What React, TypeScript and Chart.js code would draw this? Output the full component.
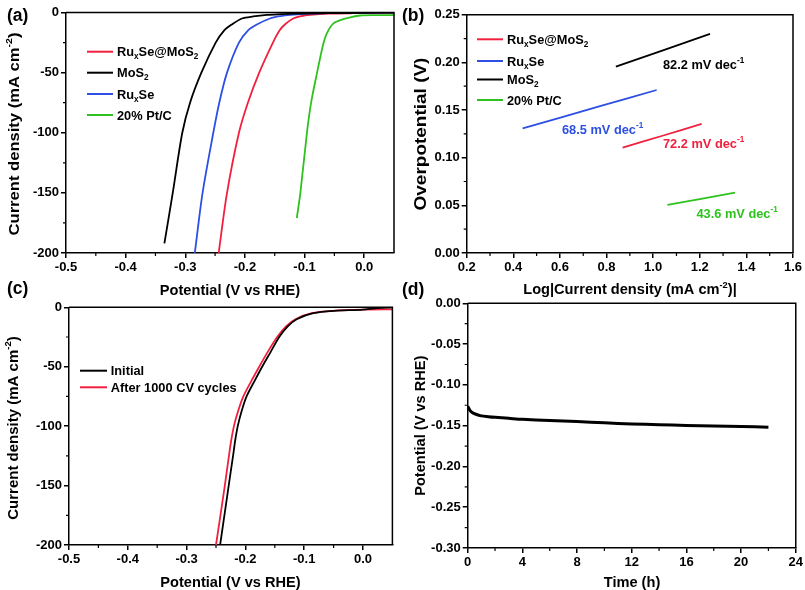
import React, { useEffect, useRef } from 'react';
import { Chart, registerables } from 'chart.js';

Chart.register(...registerables);

const FONT = '"Liberation Sans", Arial, Helvetica, sans-serif';

// ---------------- data ----------------
// (a) LSV polarization curves
const aMoS2Potential = [-0.335, -0.321, -0.305, -0.292, -0.273, -0.249, -0.235, -0.222, -0.205, -0.186, -0.163, -0.14, -0.12, -0.08, -0.04, 0.0, 0.05];
const aMoS2Current = [-192, -150, -100, -75, -50, -25, -15, -10, -5, -3.3, -2, -1.4, -1, -0.7, -0.5, -0.3, 0];
const aRuxSePotential = [-0.284, -0.271, -0.253, -0.243, -0.23, -0.21, -0.195, -0.18, -0.158, -0.14, -0.124, -0.1, -0.06, 0.0, 0.05];
const aRuxSeCurrent = [-200, -150, -100, -75, -50, -25, -15, -10, -5, -3, -2, -1.2, -0.6, -0.2, 0];
const aHybridPotential = [-0.244, -0.23, -0.21, -0.195, -0.176, -0.153, -0.142, -0.133, -0.119, -0.105, -0.091, -0.06, -0.02, 0.05];
const aHybridCurrent = [-200, -150, -100, -75, -50, -25, -15, -10, -5, -3, -2, -1, -0.6, -0.3];
const aPtCPotential = [-0.113, -0.107, -0.096, -0.089, -0.079, -0.069, -0.0626, -0.0515, -0.035, -0.0235, -0.0067, 0.02, 0.05];
const aPtCCurrent = [-171, -150, -100, -75, -50, -27, -17.3, -9, -5.5, -4, -2.5, -2.2, -2.1];

// (b) Tafel plots
const bHybridLog = [0.869, 1.04, 1.208];
const bHybridEta = [0.1105, 0.123, 0.1354];
const bRuxSeLog = [0.44, 0.772, 1.015];
const bRuxSeEta = [0.1308, 0.154, 0.171];
const bMoS2Log = [0.84, 1.244];
const bMoS2Eta = [0.1955, 0.2298];
const bPtCLog = [1.061, 1.351];
const bPtCEta = [0.0504, 0.0633];
const bSlopeLabels = ['82.2 mV dec^{-1}', '68.5 mV dec^{-1}', '72.2 mV dec^{-1}', '43.6 mV dec^{-1}'];

// (c) stability LSV
const cInitialPotential = [-0.243, -0.2284, -0.221, -0.2175, -0.213, -0.2065, -0.198, -0.185, -0.1715, -0.157, -0.1425, -0.128, -0.1128, -0.0845, -0.05, 0.0, 0.02, 0.05];
const cInitialCurrent = [-200, -150, -125, -112.5, -100, -87.5, -75, -62.5, -50, -37.5, -25, -16, -10, -5, -3, -2, -0.8, 0];
const cAfterPotential = [-0.25, -0.235, -0.228, -0.2243, -0.2195, -0.2125, -0.2035, -0.1905, -0.1765, -0.162, -0.146, -0.131, -0.115, -0.087, -0.05, 0.0, 0.05];
const cAfterCurrent = [-200, -150, -125, -112.5, -100, -87.5, -75, -62.5, -50, -37.5, -25, -16, -10, -5, -3, -2, -1.7];

// (d) chronopotentiometry
const dTime = [0, 0.15, 0.3, 0.6, 1, 1.5, 2, 3, 4, 6, 8, 10, 12, 14, 16, 18, 20, 22];
const dPotential = [-0.126, -0.131, -0.1335, -0.136, -0.138, -0.139, -0.1398, -0.141, -0.1422, -0.1438, -0.145, -0.1465, -0.148, -0.1488, -0.1497, -0.1505, -0.151, -0.152];

// tick values
const lsvTicksX = [-0.5, -0.4, -0.3, -0.2, -0.1, 0.0];
const lsvMinorX = [-0.45, -0.35, -0.25, -0.15, -0.05];
const lsvTicksY = [0, -50, -100, -150, -200];
const lsvMinorY = [-25, -75, -125, -175];
const tafelTicksX = [0.2, 0.4, 0.6, 0.8, 1.0, 1.2, 1.4, 1.6];
const tafelMinorX = [0.3, 0.5, 0.7, 0.9, 1.1, 1.3, 1.5];
const tafelTicksY = [0, 0.05, 0.1, 0.15, 0.2, 0.25];
const tafelMinorY = [0.025, 0.075, 0.125, 0.175, 0.225];
const timeTicksX = [0, 4, 8, 12, 16, 20, 24];
const timeMinorX = [2, 6, 10, 14, 18, 22];
const potTicksY = [0, -0.05, -0.1, -0.15, -0.2, -0.25, -0.3];
const potMinorY = [-0.025, -0.075, -0.125, -0.175, -0.225, -0.275];

// ---------------- styles ----------------
const RED = '#f2203f';
const BLUE = '#2d4fe3';
const GREEN = '#2fc21f';
const BLACK = '#000000';

const W = 805;
const H = 590;
const Y_AXIS_W = 60;
const X_AXIS_H = 30;

type Seg = { t: string; m: number };
function parseRich(s: string): Seg[] {
  const out: Seg[] = [];
  let i = 0;
  let buf = '';
  while (i < s.length) {
    const c = s[i];
    if ((c === '_' || c === '^') && s[i + 1] === '{') {
      if (buf) out.push({ t: buf, m: 0 });
      buf = '';
      const end = s.indexOf('}', i);
      out.push({ t: s.slice(i + 2, end), m: c === '_' ? 1 : 2 });
      i = end + 1;
    } else {
      buf += c;
      i++;
    }
  }
  if (buf) out.push({ t: buf, m: 0 });
  return out;
}

function drawRich(
  ctx: CanvasRenderingContext2D,
  s: string,
  x: number,
  y: number,
  size: number,
  color: string,
  align: 'left' | 'center',
  rotate = false,
  sx = 1
) {
  const segs = parseRich(s);
  const small = size * 0.64;
  const fontFor = (m: number) => `bold ${m === 0 ? size : small}px ${FONT}`;
  let total = 0;
  const widths = segs.map((g) => {
    ctx.font = fontFor(g.m);
    const w = ctx.measureText(g.t).width;
    total += w;
    return w;
  });
  ctx.save();
  ctx.translate(x, y);
  if (rotate) ctx.rotate(-Math.PI / 2);
  ctx.scale(sx, 1);
  ctx.fillStyle = color;
  ctx.textBaseline = 'alphabetic';
  ctx.textAlign = 'left';
  let cx = align === 'center' ? -total / 2 : 0;
  const base = size * 0.36;
  segs.forEach((g, i) => {
    ctx.font = fontFor(g.m);
    let by = base;
    if (g.m === 1) by = base + size * 0.24;
    if (g.m === 2) by = base - size * 0.45;
    ctx.fillText(g.t, cx, by);
    cx += widths[i];
  });
  ctx.restore();
}

type LegendItem = { label: string; color: string; y: number };
type TextItem = { text: string; x: number; y: number; color: string; size: number; align: 'left' | 'center'; rotate?: boolean; sx?: number };
type Extras = {
  minorX: number[];
  minorY: number[];
  legend: LegendItem[];
  legendX1: number;
  legendX2: number;
  legendTextX: number;
  texts: TextItem[];
};

function extrasPlugin(ex: Extras) {
  return {
    id: 'panelExtras',
    afterDraw(chart: any) {
      const ctx: CanvasRenderingContext2D = chart.ctx;
      const { left, top, right, bottom } = chart.chartArea;
      const xs = chart.scales.x;
      const ys = chart.scales.y;
      ctx.save();
      ctx.strokeStyle = '#000';
      ctx.lineWidth = 1.5;
      ctx.beginPath();
      ctx.moveTo(left, top);
      ctx.lineTo(right, top);
      ctx.lineTo(right, bottom);
      ctx.stroke();
      ctx.lineWidth = 1.2;
      ctx.beginPath();
      ex.minorX.forEach((v) => {
        const px = xs.getPixelForValue(v);
        ctx.moveTo(px, bottom);
        ctx.lineTo(px, bottom + 3);
      });
      ex.minorY.forEach((v) => {
        const py = ys.getPixelForValue(v);
        ctx.moveTo(left, py);
        ctx.lineTo(left - 3, py);
      });
      ctx.stroke();
      ex.legend.forEach((it) => {
        ctx.strokeStyle = it.color;
        ctx.lineWidth = 2;
        ctx.beginPath();
        ctx.moveTo(ex.legendX1, it.y);
        ctx.lineTo(ex.legendX2, it.y);
        ctx.stroke();
        drawRich(ctx, it.label, ex.legendTextX, it.y, 12.8, '#000', 'left');
      });
      ex.texts.forEach((t) => drawRich(ctx, t.text, t.x, t.y, t.size, t.color, t.align, !!t.rotate, t.sx ?? 1));
      ctx.restore();
    },
  };
}

function pts(xs: number[], ys: number[]) {
  return xs.map((x, i) => ({ x, y: ys[i] }));
}

function axis(min: number, max: number, ticks: number[], digits: number, isX: boolean) {
  return {
    type: 'linear',
    min,
    max,
    afterFit: (s: any) => {
      if (isX) s.height = X_AXIS_H;
      else s.width = Y_AXIS_W;
    },
    afterBuildTicks: (s: any) => {
      s.ticks = ticks.map((v) => ({ value: v }));
    },
    ticks: {
      autoSkip: false,
      maxRotation: 0,
      minRotation: 0,
      padding: 2,
      color: '#000',
      font: { family: FONT, size: 13, weight: 'bold' },
      callback: (v: any) => Number(v).toFixed(digits),
    },
    grid: { drawOnChartArea: false, drawTicks: true, tickLength: 5, color: '#000', lineWidth: 1.5 },
    border: { display: true, color: '#000', width: 1.5 },
  };
}

type Series = { xs: number[]; ys: number[]; color: string; width: number };

type PanelDef = {
  area: { l: number; t: number; r: number; b: number };
  xRange: [number, number];
  yRange: [number, number];
  xTicks: number[];
  yTicks: number[];
  xDigits: number;
  yDigits: number;
  series: Series[];
  extras: Extras;
};

function makeConfig(p: PanelDef): any {
  return {
    type: 'scatter',
    data: {
      datasets: p.series.map((s) => ({
        data: pts(s.xs, s.ys),
        showLine: true,
        borderColor: s.color,
        backgroundColor: s.color,
        borderWidth: s.width,
        pointRadius: 0,
        tension: 0.3,
        fill: false,
      })),
    },
    options: {
      animation: false,
      responsive: false,
      events: [],
      layout: {
        padding: {
          left: p.area.l - Y_AXIS_W,
          top: p.area.t,
          right: W - p.area.r,
          bottom: H - p.area.b - X_AXIS_H,
        },
      },
      plugins: { legend: { display: false }, tooltip: { enabled: false } },
      scales: {
        x: axis(p.xRange[0], p.xRange[1], p.xTicks, p.xDigits, true),
        y: axis(p.yRange[0], p.yRange[1], p.yTicks, p.yDigits, false),
      },
    },
    plugins: [extrasPlugin(p.extras)],
  };
}

const TITLE = 14.6;
const PANEL = 17.5;

const panels: PanelDef[] = [
  {
    area: { l: 66, t: 12.5, r: 394, b: 253 },
    xRange: [-0.5, 0.05],
    yRange: [-200, 0],
    xTicks: lsvTicksX,
    yTicks: lsvTicksY,
    xDigits: 1,
    yDigits: 0,
    series: [
      { xs: aMoS2Potential, ys: aMoS2Current, color: BLACK, width: 1.8 },
      { xs: aRuxSePotential, ys: aRuxSeCurrent, color: BLUE, width: 1.8 },
      { xs: aHybridPotential, ys: aHybridCurrent, color: RED, width: 1.8 },
      { xs: aPtCPotential, ys: aPtCCurrent, color: GREEN, width: 1.8 },
    ],
    extras: {
      minorX: lsvMinorX,
      minorY: lsvMinorY,
      legendX1: 87,
      legendX2: 113,
      legendTextX: 117,
      legend: [
        { label: 'Ru_{x}Se@MoS_{2}', color: RED, y: 51.7 },
        { label: 'MoS_{2}', color: BLACK, y: 72.7 },
        { label: 'Ru_{x}Se', color: BLUE, y: 94 },
        { label: '20% Pt/C', color: GREEN, y: 115 },
      ],
      texts: [
        { text: '(a)', x: 7, y: 14.5, color: '#000', size: PANEL, align: 'left' },
        { text: 'Current density (mA cm^{-2})', x: 13, y: 134, color: '#000', size: 15.5, align: 'center', rotate: true, sx: 1.07 },
        { text: 'Potential (V vs RHE)', x: 230, y: 290, color: '#000', size: TITLE, align: 'center' },
      ],
    },
  },
  {
    area: { l: 466.7, t: 14.7, r: 793, b: 253 },
    xRange: [0.2, 1.6],
    yRange: [0, 0.25],
    xTicks: tafelTicksX,
    yTicks: tafelTicksY,
    xDigits: 1,
    yDigits: 2,
    series: [
      { xs: bHybridLog, ys: bHybridEta, color: RED, width: 1.8 },
      { xs: bRuxSeLog, ys: bRuxSeEta, color: BLUE, width: 1.8 },
      { xs: bMoS2Log, ys: bMoS2Eta, color: BLACK, width: 1.8 },
      { xs: bPtCLog, ys: bPtCEta, color: GREEN, width: 1.8 },
    ],
    extras: {
      minorX: tafelMinorX,
      minorY: tafelMinorY,
      legendX1: 477,
      legendX2: 503,
      legendTextX: 507,
      legend: [
        { label: 'Ru_{x}Se@MoS_{2}', color: RED, y: 39.3 },
        { label: 'Ru_{x}Se', color: BLUE, y: 61 },
        { label: 'MoS_{2}', color: BLACK, y: 79.5 },
        { label: '20% Pt/C', color: GREEN, y: 100 },
      ],
      texts: [
        { text: '(b)', x: 402, y: 14.5, color: '#000', size: PANEL, align: 'left' },
        { text: 'Overpotential (V)', x: 420, y: 134, color: '#000', size: 16.5, align: 'center', rotate: true, sx: 1.15 },
        { text: 'Log|Current density (mA cm^{-2})|', x: 630, y: 289, color: '#000', size: TITLE, align: 'center' },
        { text: bSlopeLabels[0], x: 663, y: 64.5, color: BLACK, size: 12.8, align: 'left' },
        { text: bSlopeLabels[1], x: 562, y: 129, color: BLUE, size: 12.8, align: 'left' },
        { text: bSlopeLabels[2], x: 663, y: 143.5, color: RED, size: 12.8, align: 'left' },
        { text: bSlopeLabels[3], x: 696.5, y: 213.3, color: GREEN, size: 12.8, align: 'left' },
      ],
    },
  },
  {
    area: { l: 69, t: 307.3, r: 392.4, b: 545 },
    xRange: [-0.5, 0.05],
    yRange: [-200, 0],
    xTicks: lsvTicksX,
    yTicks: lsvTicksY,
    xDigits: 1,
    yDigits: 0,
    series: [
      { xs: cInitialPotential, ys: cInitialCurrent, color: BLACK, width: 1.8 },
      { xs: cAfterPotential, ys: cAfterCurrent, color: RED, width: 1.8 },
    ],
    extras: {
      minorX: lsvMinorX,
      minorY: lsvMinorY,
      legendX1: 80,
      legendX2: 107,
      legendTextX: 110.7,
      legend: [
        { label: 'Initial', color: BLACK, y: 370.7 },
        { label: 'After 1000 CV cycles', color: RED, y: 387.3 },
      ],
      texts: [
        { text: '(c)', x: 7, y: 288, color: '#000', size: PANEL, align: 'left' },
        { text: 'Current density (mA cm^{-2})', x: 12.5, y: 428, color: '#000', size: 15, align: 'center', rotate: true },
        { text: 'Potential (V vs RHE)', x: 230.5, y: 581.5, color: '#000', size: TITLE, align: 'center' },
      ],
    },
  },
  {
    area: { l: 467.7, t: 303.3, r: 796, b: 548 },
    xRange: [0, 24],
    yRange: [-0.3, 0],
    xTicks: timeTicksX,
    yTicks: potTicksY,
    xDigits: 0,
    yDigits: 2,
    series: [{ xs: dTime, ys: dPotential, color: BLACK, width: 3 }],
    extras: {
      minorX: timeMinorX,
      minorY: potMinorY,
      legendX1: 0,
      legendX2: 0,
      legendTextX: 0,
      legend: [],
      texts: [
        { text: '(d)', x: 402, y: 288.5, color: '#000', size: PANEL, align: 'left' },
        { text: 'Potential (V vs RHE)', x: 420, y: 425.7, color: '#000', size: TITLE, align: 'center', rotate: true },
        { text: 'Time (h)', x: 632, y: 581.5, color: '#000', size: TITLE, align: 'center' },
      ],
    },
  },
];

function PanelCanvas({ def }: { def: PanelDef }) {
  const ref = useRef<HTMLCanvasElement | null>(null);
  useEffect(() => {
    if (!ref.current) return;
    const chart = new Chart(ref.current, makeConfig(def));
    return () => chart.destroy();
  }, [def]);
  return (
    <canvas
      ref={ref}
      width={W}
      height={H}
      style={{ position: 'absolute', left: 0, top: 0, width: W, height: H }}
    />
  );
}

export default function App() {
  return (
    <div style={{ position: 'absolute', left: 0, top: 0, width: W, height: H, background: '#fff' }}>
      {panels.map((p, i) => (
        <PanelCanvas key={i} def={p} />
      ))}
    </div>
  );
}
